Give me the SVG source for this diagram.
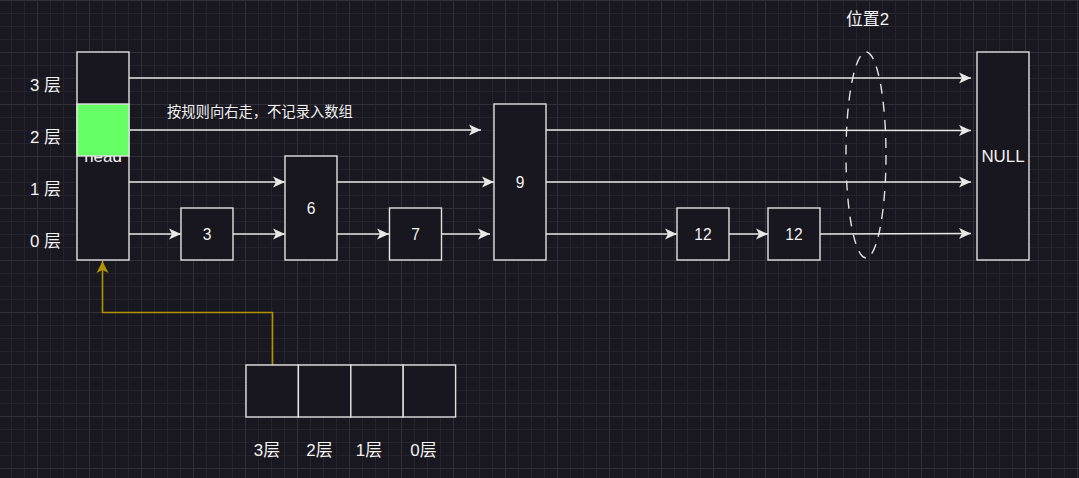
<svg xmlns="http://www.w3.org/2000/svg" width="1079" height="478" viewBox="0 0 1079 478">
<defs>
<pattern id="grid" x="37" y="0" width="52" height="52" patternUnits="userSpaceOnUse">
<rect x="0" y="0" width="52" height="52" fill="#19171f"/>
<rect x="13" y="0" width="1" height="52" fill="#25232b"/>
<rect x="26" y="0" width="1" height="52" fill="#25232b"/>
<rect x="39" y="0" width="1" height="52" fill="#25232b"/>
<rect x="0" y="13" width="52" height="1" fill="#25232b"/>
<rect x="0" y="26" width="52" height="1" fill="#25232b"/>
<rect x="0" y="39" width="52" height="1" fill="#25232b"/>
<rect x="0" y="0" width="1" height="52" fill="#322f38"/>
<rect x="0" y="0" width="52" height="1" fill="#322f38"/>
</pattern>
<marker id="arr" markerUnits="userSpaceOnUse" markerWidth="14" markerHeight="14" viewBox="-1 -7 14 14" refX="12" refY="0" orient="auto">
<path d="M0,-5.5 L12,0 L0,5.5 L3,0 Z" fill="#e8e8e8"/>
</marker>
<marker id="arrY" markerUnits="userSpaceOnUse" markerWidth="14" markerHeight="14" viewBox="-1 -7 14 14" refX="12" refY="0" orient="auto">
<path d="M0,-6 L12,0 L0,6 L3,0 Z" fill="#b09500"/>
</marker>
</defs>
<style>
.box{fill:#18161e;stroke:#e2e2e2;stroke-width:1.4}
.lbl{font-family:"Liberation Sans","Noto Sans CJK SC",sans-serif;font-size:15.6px;fill:#f2f2f2;text-anchor:middle}
.big{font-family:"Liberation Sans","Noto Sans CJK SC",sans-serif;font-size:16.9px;fill:#f2f2f2;text-anchor:middle}
.cjk{font-family:"Noto Sans CJK SC","Liberation Sans",sans-serif;font-size:14.3px;fill:#f2f2f2}
.e{fill:none;stroke:#e8e8e8;stroke-width:1.4;marker-end:url(#arr)}
.ey{fill:none;stroke:#b09500;stroke-width:1.6;marker-end:url(#arrY)}
</style>
<rect width="1079" height="478" fill="url(#grid)"/>

<g id="layer-labels">
<text class="big" x="45.5" y="91">3 层</text>
<text class="big" x="45.5" y="143">2 层</text>
<text class="big" x="45.5" y="195">1 层</text>
<text class="big" x="45.5" y="247">0 层</text>
</g>

<g id="note">
<text class="cjk" x="167" y="117">按规则向右走，不记录入数组</text>
</g>
<g id="pos2-label">
<text class="big" x="867.5" y="25">位置2</text>
</g>

<g id="connectors">
<path class="e" d="M129,78 L971,78"/>
<path class="e" d="M129,130 L481,130"/>
<path class="e" d="M546,130 L971,130.5"/>
<path class="e" d="M129,182 L285,182"/>
<path class="e" d="M337,182 L494,182"/>
<path class="e" d="M546,182 L971,182"/>
<path class="e" d="M129,234 L181,234"/>
<path class="e" d="M233,234 L285,234"/>
<path class="e" d="M337,234 L389,234"/>
<path class="e" d="M441,234 L490,234"/>
<path class="e" d="M546,234 L677,234"/>
<path class="e" d="M729,234 L768,234"/>
<path class="e" d="M820,234 L971,233.5"/>
<path class="ey" d="M272.5,365 L272.5,312.5 L102.5,312.5 L102.5,261"/>
</g>

<g id="head">
<rect class="box" x="77" y="52" width="52" height="208"/>
<text class="big" x="103" y="162">head</text>
<rect x="77" y="104" width="52" height="52" fill="#66ff66" stroke="#e2e2e2" stroke-width="1.4"/>
</g>

<g id="node-3"><rect class="box" x="181" y="208" width="52" height="52"/><text class="lbl" x="207" y="239.5">3</text></g>
<g id="node-6"><rect class="box" x="285" y="156" width="52" height="104"/><text class="lbl" x="311" y="213.5">6</text></g>
<g id="node-7"><rect class="box" x="389.5" y="208" width="52" height="52"/><text class="lbl" x="415.5" y="239.5">7</text></g>
<g id="node-9"><rect class="box" x="494" y="104" width="52" height="156"/><text class="lbl" x="520" y="187.5">9</text></g>
<g id="node-12a"><rect class="box" x="677" y="208" width="52" height="52"/><text class="lbl" x="703" y="239.5">12</text></g>
<g id="node-12b"><rect class="box" x="768" y="208" width="52" height="52"/><text class="lbl" x="794" y="239.5">12</text></g>
<g id="node-null"><rect class="box" x="977" y="52" width="52" height="208"/><text class="big" x="1003" y="162">NULL</text></g>

<g id="pos2">
<ellipse cx="866" cy="155" rx="20" ry="103" fill="none" stroke="#e2e2e2" stroke-width="1.4" stroke-dasharray="10 8"/>
</g>

<g id="array">
<rect class="box" x="246" y="365" width="52.4" height="52"/>
<rect class="box" x="298.4" y="365" width="52.4" height="52"/>
<rect class="box" x="350.8" y="365" width="52.4" height="52"/>
<rect class="box" x="403.2" y="365" width="52.4" height="52"/>
</g>
<g id="array-labels">
<text class="big" x="267" y="456">3层</text>
<text class="big" x="319.5" y="456">2层</text>
<text class="big" x="369" y="456">1层</text>
<text class="big" x="423.5" y="456">0层</text>
</g>
</svg>
